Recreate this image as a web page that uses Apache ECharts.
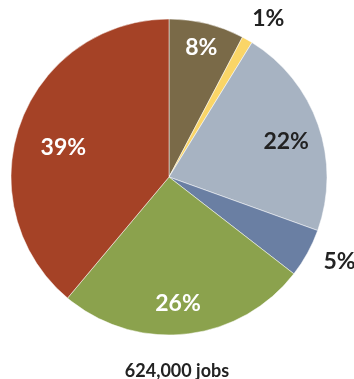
<!DOCTYPE html>
<html>
<head>
<meta charset="utf-8">
<script src="https://cdn.jsdelivr.net/npm/echarts@6/dist/echarts.min.js"></script>
<style>
  html, body { margin: 0; padding: 0; background: #fff; }
  #chart { width: 354px; height: 379px; }
</style>
</head>
<body>
<div id="chart"></div>
<script>
// slices, clockwise from 12 o'clock
var shares = [7.7, 1.1, 21.7, 5.0, 25.6, 38.9];
var shareLabels = ['8%', '1%', '22%', '5%', '26%', '39%'];
var sliceColors = ['#7a6a48', '#fad567', '#a7b3c2', '#6a7fa3', '#8ba24d', '#a54226'];
var labelColors = ['#fff', '#222', '#222', '#222', '#fff', '#fff'];
var outsideLabel = [false, true, false, true, false, false];
var totalText = '624,000 jobs';

var chart = echarts.init(document.getElementById('chart'));

var fontBase = {
    fontFamily: 'Lato',
    fontWeight: 'bold',
    fontSize: 23
};

// small hand nudges so labels sit where the original has them
var nudge = [[3, -11], [-8, -14], [2, 5], [0, 5], [-4, 5], [9, 12]];

// main pie, no labels
var mainData = shares.map(function (v, i) {
    return { value: v, itemStyle: { color: sliceColors[i] } };
});

// transparent ring on top, only used to place the labels
var labelData = shares.map(function (v, i) {
    return {
        value: v,
        itemStyle: { color: 'rgba(0,0,0,0)' },
        label: Object.assign({
            show: true,
            position: outsideLabel[i] ? 'outside' : 'inside',
            formatter: shareLabels[i],
            color: labelColors[i]
        }, fontBase),
        labelLine: { show: false, length: 8, length2: 4 }
    };
});

var option = {
    animation: false,
    title: {
        text: totalText,
        left: 'center',
        top: 357,
        textStyle: {
            fontFamily: 'Lato',
            fontWeight: 'bold',
            fontSize: 18,
            color: '#222'
        }
    },
    series: [
        {
            type: 'pie',
            center: [169, 177],
            radius: [0, 158],
            startAngle: 90,
            clockwise: true,
            label: { show: false },
            labelLine: { show: false },
            itemStyle: { borderColor: '#fff', borderWidth: 0.5 },
            silent: true,
            data: mainData
        },
        {
            type: 'pie',
            center: [169, 177],
            radius: [80, 158],
            startAngle: 90,
            clockwise: true,
            silent: true,
            avoidLabelOverlap: false,
            labelLayout: function (params) {
                var n = nudge[params.dataIndex];
                return { dx: n[0], dy: n[1] };
            },
            data: labelData
        }
    ]
};

chart.setOption(option);
</script>
</body>
</html>
